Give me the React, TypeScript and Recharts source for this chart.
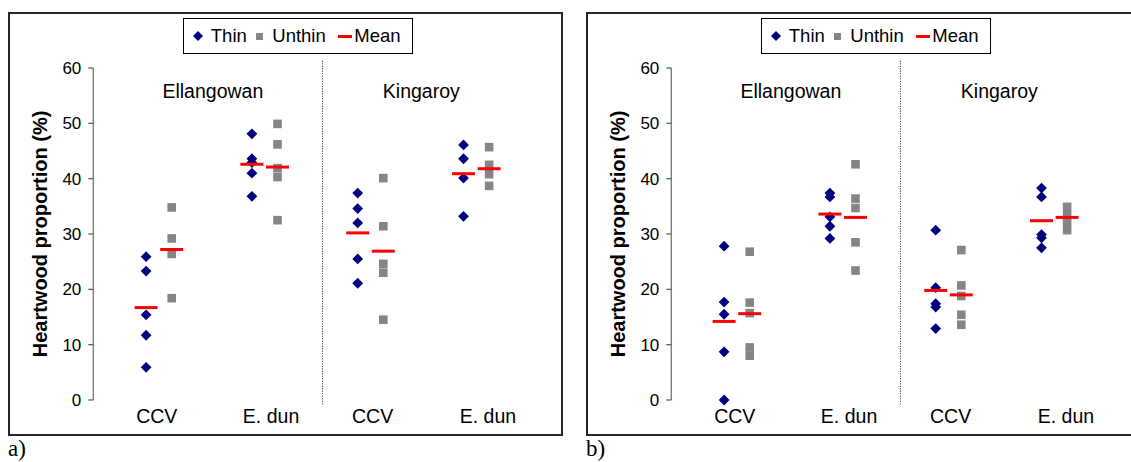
import React from 'react';
import { ScatterChart, Scatter, XAxis, YAxis, ReferenceLine, ReferenceDot } from 'recharts';

// Category (species) tick labels along the bottom, and the two sites
const SPECIES = ['CCV', 'E. dun', 'CCV', 'E. dun'];
const SITES = ['Ellangowan', 'Kingaroy'];
const Y_TICKS = [0, 10, 20, 30, 40, 50, 60];

// Panel a) — heartwood proportion (%) per tree, groups: Ell CCV, Ell E. dun, King CCV, King E. dun
const thinA = [
  [25.9, 23.3, 15.4, 11.7, 5.9],
  [48.1, 43.6, 42.9, 41.0, 36.8],
  [37.4, 34.6, 32.0, 25.5, 21.1],
  [46.1, 43.6, 40.1, 33.2],
];
const unthinA = [
  [34.8, 29.2, 26.4, 18.4],
  [49.9, 46.2, 41.9, 40.3, 32.5],
  [40.1, 31.4, 24.6, 23.0, 14.5],
  [45.7, 42.5, 40.8, 38.7],
];
const meanThinA = [16.7, 42.6, 30.2, 40.9];
const meanUnthinA = [27.2, 42.1, 26.9, 41.8];

// Panel b)
const thinB = [
  [27.8, 17.7, 15.5, 8.7, 0.0],
  [37.4, 36.7, 33.1, 31.4, 29.2],
  [30.7, 20.3, 17.4, 16.8, 12.9],
  [38.3, 36.7, 29.9, 29.3, 27.5],
];
const unthinB = [
  [26.8, 17.6, 15.7, 9.5, 8.0],
  [42.6, 36.4, 34.7, 28.5, 23.4],
  [27.1, 20.7, 18.8, 15.4, 13.6],
  [34.9, 33.4, 32.2, 30.7],
];
const meanThinB = [14.2, 33.6, 19.8, 32.4];
const meanUnthinB = [15.6, 33.0, 19.0, 33.0];

// Layout of the numeric x axis: groups sit at 0..3, treatments either side
const PAIR_OFFSET = 0.121;
const X_DOMAIN: [number, number] = [-0.62, 3.6];
const SPECIES_TICK_POS = [-0.02, 1.06, 2.02, 3.11];
const SITE_LABEL_POS = [0.51, 2.48];
const SITE_LABEL_Y = 55.9;
const DIVIDER_X = 1.546;

const FONT = '"Liberation Sans", Arial, Helvetica, sans-serif';

const toPoints = (groups: number[][], shift: number) =>
  groups.flatMap((vals, g) => vals.map((v) => ({ x: g + shift, y: v })));
const toMeans = (means: number[], shift: number) => means.map((v, g) => ({ x: g + shift, y: v }));

const Diamond = (props: any) => {
  const { cx, cy } = props;
  const r = 5.4;
  return (
    <polygon
      points={`${cx},${cy - r} ${cx + r},${cy} ${cx},${cy + r} ${cx - r},${cy}`}
      fill="#000080"
    />
  );
};

const Square = (props: any) => {
  const { cx, cy } = props;
  const s = 8.6;
  return <rect x={cx - s / 2} y={cy - s / 2} width={s} height={s} fill="#858585" />;
};

const MeanBar = (props: any) => {
  const { cx, cy } = props;
  return <rect x={cx - 11.5} y={cy - 1.5} width={23} height={3} fill="#ff0000" />;
};

const YTitle = (props: any) => {
  const { viewBox } = props;
  const cx = 40;
  const cy = viewBox.y + viewBox.height / 2;
  return (
    <text
      x={cx}
      y={cy}
      transform={`rotate(-90 ${cx} ${cy})`}
      textAnchor="middle"
      dominantBaseline="central"
      fontFamily={FONT}
      fontWeight="bold"
      fontSize={20}
      fill="#000"
    >
      Heartwood proportion (%)
    </text>
  );
};

const LegendBox = ({ left }: { left: number }) => (
  <div
    style={{
      position: 'absolute',
      left,
      top: 18,
      width: 230,
      height: 36,
      boxSizing: 'border-box',
      border: '1px solid #000',
      background: '#fff',
      display: 'flex',
      alignItems: 'center',
      paddingLeft: 8.5,
      fontFamily: FONT,
      fontSize: 18.5,
      color: '#000',
      whiteSpace: 'nowrap',
    }}
  >
    <svg width={10} height={10} style={{ marginRight: 8 }}>
      <polygon points="5,0 10,5 5,10 0,5" fill="#000080" />
    </svg>
    <span style={{ marginRight: 9.5 }}>Thin</span>
    <svg width={7} height={7} style={{ marginRight: 9 }}>
      <rect x={0} y={0} width={7} height={7} fill="#858585" />
    </svg>
    <span style={{ marginRight: 12 }}>Unthin</span>
    <svg width={14} height={3} style={{ marginRight: 2.5 }}>
      <rect x={0} y={0} width={14} height={3} fill="#ff0000" />
    </svg>
    <span>Mean</span>
  </div>
);

type PanelProps = {
  ox: number;
  tag: string;
  thin: number[][];
  unthin: number[][];
  meanThin: number[];
  meanUnthin: number[];
};

const Panel = ({ ox, tag, thin, unthin, meanThin, meanUnthin }: PanelProps) => {
  const thinPts = toPoints(thin, -PAIR_OFFSET);
  const unthinPts = toPoints(unthin, PAIR_OFFSET);
  const meanPts = [...toMeans(meanThin, -PAIR_OFFSET), ...toMeans(meanUnthin, PAIR_OFFSET)];
  return (
    <>
      <div
        style={{
          position: 'absolute',
          left: ox + 7.5,
          top: 12.3,
          width: 555,
          height: 424,
          boxSizing: 'border-box',
          border: '2px solid #262626',
        }}
      />
      <div style={{ position: 'absolute', left: ox, top: 0 }}>
        <ScatterChart width={570} height={462} margin={{ top: 68, right: 30.2, bottom: 32, left: 33.3 }}>
          <XAxis
            type="number"
            dataKey="x"
            domain={X_DOMAIN}
            ticks={SPECIES_TICK_POS}
            tickFormatter={(v: number) => SPECIES[SPECIES_TICK_POS.indexOf(v)] ?? ''}
            interval={0}
            axisLine={false}
            tickLine={false}
            tickSize={0}
            tickMargin={9}
            height={30}
            allowDataOverflow
            tick={{ fill: '#000', fontSize: 19.5, fontFamily: FONT }}
          />
          <YAxis
            type="number"
            dataKey="y"
            domain={[0, 60]}
            ticks={Y_TICKS}
            width={60}
            tickSize={5}
            tickMargin={7}
            axisLine={{ stroke: '#7f7f7f', strokeWidth: 1.4 }}
            tickLine={{ stroke: '#555', strokeWidth: 1.2 }}
            tick={{ fill: '#000', fontSize: 17, fontFamily: FONT }}
            label={<YTitle />}
          />
          <ReferenceLine
            segment={[
              { x: DIVIDER_X, y: 61.3 },
              { x: DIVIDER_X, y: -0.9 },
            ]}
            stroke="#222"
            strokeWidth={1}
            strokeDasharray="1 1.5"
            ifOverflow="visible"
          />
          {SITES.map((site, i) => (
            <ReferenceDot
              key={site}
              x={SITE_LABEL_POS[i]}
              y={SITE_LABEL_Y}
              r={0}
              fill="none"
              stroke="none"
              label={{ value: site, position: 'center', fill: '#000', fontSize: 19.5, fontFamily: FONT }}
            />
          ))}
          <Scatter name="Thin" data={thinPts} shape={<Diamond />} isAnimationActive={false} />
          <Scatter name="Unthin" data={unthinPts} shape={<Square />} isAnimationActive={false} />
          <Scatter name="Mean" data={meanPts} shape={<MeanBar />} isAnimationActive={false} />
        </ScatterChart>
      </div>
      <LegendBox left={ox + 183.3} />
      <div
        style={{
          position: 'absolute',
          left: ox + 8,
          top: 436,
          fontFamily: '"Liberation Serif", "Times New Roman", serif',
          fontSize: 23,
          lineHeight: '26px',
          color: '#000',
        }}
      >
        {tag}
      </div>
    </>
  );
};

export default function App() {
  return (
    <div
      style={{
        position: 'absolute',
        left: 0,
        top: 0,
        width: 1131,
        height: 462,
        overflow: 'hidden',
        background: '#fff',
      }}
    >
      <Panel ox={0} tag="a)" thin={thinA} unthin={unthinA} meanThin={meanThinA} meanUnthin={meanUnthinA} />
      <Panel ox={578} tag="b)" thin={thinB} unthin={unthinB} meanThin={meanThinB} meanUnthin={meanUnthinB} />
    </div>
  );
}
